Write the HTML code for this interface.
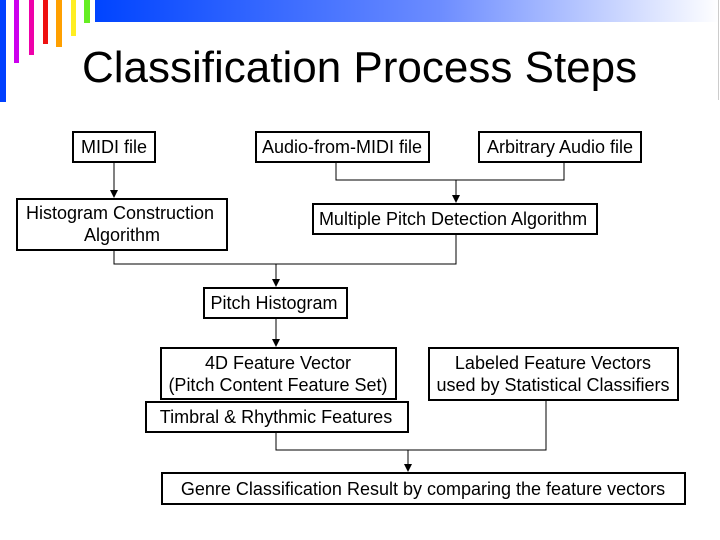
<!DOCTYPE html>
<html><head><style>
body{margin:0;width:720px;height:540px;background:#fff;overflow:hidden;position:relative;font-family:"Liberation Sans",sans-serif}
.b{position:absolute}
</style></head><body>
<div class="b" style="left:0;top:0;width:6px;height:102px;background:#0040ff"></div>
<div class="b" style="left:14px;top:0;width:5px;height:63px;background:#cc00ee"></div>
<div class="b" style="left:29px;top:0;width:5px;height:55px;background:#ee00aa"></div>
<div class="b" style="left:43px;top:0;width:5px;height:44px;background:#ee1111"></div>
<div class="b" style="left:56px;top:0;width:6px;height:47px;background:#ffa000"></div>
<div class="b" style="left:71px;top:0;width:5px;height:36px;background:#ffee22"></div>
<div class="b" style="left:84px;top:0;width:6px;height:23px;background:#66ee22"></div>
<div class="b" style="left:95px;top:0;width:625px;height:22px;background:linear-gradient(to right,#0044ff,#6c8cff 55%,#fff)"></div>
<div class="b" style="left:718px;top:0;width:1px;height:100px;background:#ccc"></div>
<div class="b" style="left:82px;top:43px;font-size:44px;line-height:50px">Classification Process Steps</div>
<svg class="b" style="left:0;top:0" width="720" height="540" font-family="Liberation Sans, sans-serif" font-size="18">
<defs><marker id="a" markerWidth="8" markerHeight="8" refX="7" refY="4" orient="auto" markerUnits="userSpaceOnUse"><path d="M0,0L8,4L0,8z" fill="#000"/></marker></defs>
<g fill="none" stroke="#000" stroke-width="1">
<path d="M114,162V197" marker-end="url(#a)"/>
<path d="M336,162V180H564V162"/>
<path d="M456,180V202" marker-end="url(#a)"/>
<path d="M114,250V264H456V234"/>
<path d="M276,264V286" marker-end="url(#a)"/>
<path d="M276,318V346" marker-end="url(#a)"/>
<path d="M276,432V450H546V400"/>
<path d="M408,450V471" marker-end="url(#a)"/>
</g>
<g fill="#fff" stroke="#000" stroke-width="2">
<rect x="73" y="132" width="82" height="30"/>
<rect x="256" y="132" width="173" height="30"/>
<rect x="479" y="132" width="162" height="30"/>
<rect x="17" y="199" width="210" height="51"/>
<rect x="313" y="204" width="284" height="30"/>
<rect x="204" y="288" width="143" height="30"/>
<rect x="161" y="348" width="235" height="51"/>
<rect x="429" y="348" width="249" height="52"/>
<rect x="146" y="402" width="262" height="30"/>
<rect x="162" y="473" width="523" height="31"/>
</g>
<g text-anchor="middle">
<text x="114" y="153">MIDI file</text>
<text x="342" y="153">Audio-from-MIDI file</text>
<text x="560" y="153">Arbitrary Audio file</text>
<text x="120" y="219">Histogram Construction</text>
<text x="122" y="241">Algorithm</text>
<text x="453" y="225">Multiple Pitch Detection Algorithm</text>
<text x="274" y="309">Pitch Histogram</text>
<text x="278" y="369">4D Feature Vector</text>
<text x="278" y="391">(Pitch Content Feature Set)</text>
<text x="553" y="369">Labeled Feature Vectors</text>
<text x="553" y="391">used by Statistical Classifiers</text>
<text x="276" y="423">Timbral &amp; Rhythmic Features</text>
<text x="423" y="495">Genre Classification Result by comparing the feature vectors</text>
</g>
</svg>
</body></html>
